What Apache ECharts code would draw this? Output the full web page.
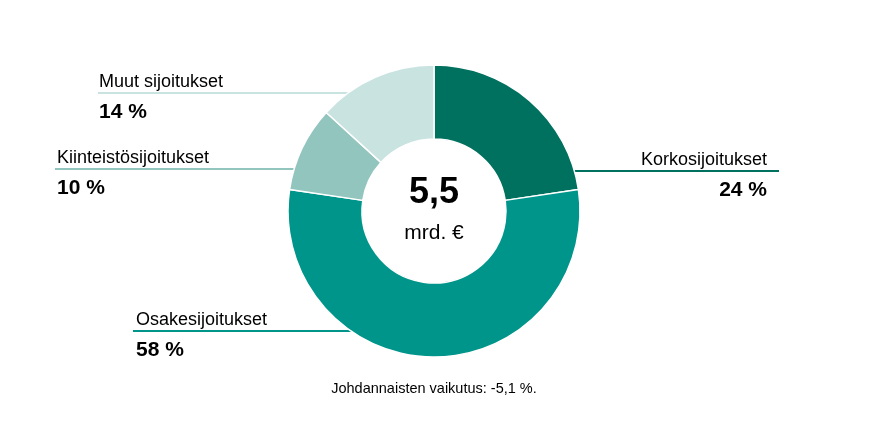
<!DOCTYPE html>
<html>
<head>
<meta charset="utf-8">
<script src="https://cdn.jsdelivr.net/npm/echarts@6/dist/echarts.min.js"></script>
<style>
  html, body { margin: 0; background: #fff; }
  #chart { width: 870px; height: 432px; }
</style>
</head>
<body>
<div id="chart"></div>
<script>
const categories = ['Korkosijoitukset', 'Osakesijoitukset', 'Kiinteistösijoitukset', 'Muut sijoitukset'];
const shares = [24, 58, 10, 14];
const totalValue = '5,5';
const totalUnit = 'mrd. €';
const footnote = 'Johdannaisten vaikutus: -5,1 %.';

const colors = ['#00705f', '#00958b', '#93c5bf', '#c9e3e0'];
const FONT = "'Liberation Sans', Arial, sans-serif";
const CX = 434, CY = 211, R_OUT = 146, R_IN = 72;
const NAME_LH = 23, PCT_LH = 37;

// where each leader line runs (horizontal) and where its label sits
const leaders = [
  { y: 171, end: 779, textX: 767, side: 'right' },
  { y: 331, end: 133, textX: 136, side: 'left' },
  { y: 169, end: 55, textX: 57, side: 'left' },
  { y: 93, end: 98, textX: 99, side: 'left' }
];

const chart = echarts.init(document.getElementById('chart'));

const option = {
  animation: false,
  graphic: [
    {
      type: 'text', x: CX, y: 193,
      style: { text: totalValue, fontFamily: FONT, fontSize: 36, fontWeight: 'bold', fill: '#000', align: 'center', verticalAlign: 'middle' }
    },
    {
      type: 'text', x: CX, y: 233,
      style: { text: totalUnit, fontFamily: FONT, fontSize: 21, fill: '#000', align: 'center', verticalAlign: 'middle' }
    },
    {
      type: 'text', x: CX, y: 389,
      style: { text: footnote, fontFamily: FONT, fontSize: 14.5, fill: '#000', align: 'center', verticalAlign: 'middle' }
    }
  ],
  series: [
    {
      type: 'pie',
      center: [CX, CY],
      radius: [R_IN, R_OUT],
      startAngle: 90,
      clockwise: true,
      silent: true,
      avoidLabelOverlap: false,
      itemStyle: { borderColor: '#fff', borderWidth: 1.5 },
      label: {
        show: true,
        formatter: '{n|{b}}\n{p|{c} %}',
        rich: {
          n: { fontFamily: FONT, fontSize: 18, lineHeight: NAME_LH, color: '#000' },
          p: { fontFamily: FONT, fontSize: 21, fontWeight: 'bold', lineHeight: PCT_LH, color: '#000' }
        }
      },
      labelLine: { show: true, length: 10, length2: 10, lineStyle: { width: 2 } },
      labelLayout: function (p) {
        const l = leaders[p.dataIndex];
        const dy = l.y - CY;
        const dx = Math.sqrt(R_OUT * R_OUT - dy * dy);
        const edgeX = l.side === 'right' ? CX + dx : CX - dx;
        return {
          x: l.textX,
          y: l.y - NAME_LH + 1,
          align: l.side,
          verticalAlign: 'top',
          labelLinePoints: [[edgeX, l.y], [edgeX, l.y], [l.end, l.y]]
        };
      },
      data: categories.map((name, i) => ({ name: name, value: shares[i], itemStyle: { color: colors[i] } }))
    }
  ]
};

chart.setOption(option);
</script>
</body>
</html>
